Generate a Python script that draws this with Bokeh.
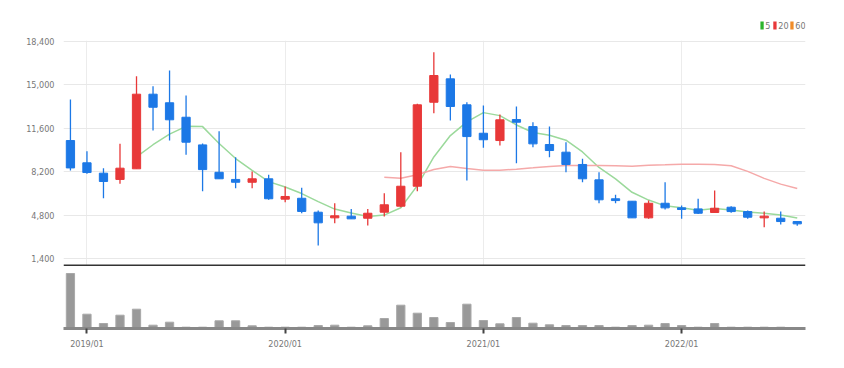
import pandas as pd
from bokeh.plotting import figure
from bokeh.layouts import column
from bokeh.models import Range1d, FixedTicker, NumeralTickFormatter, Span
from bokeh.core.properties import value
from bokeh.embed import file_html
from bokeh.resources import INLINE

months = list(pd.period_range("2018-12", "2022-08", freq="M").strftime("%Y/%m"))

opens = [10640, 8900, 8090, 7600, 8430, 14260, 13590, 12460, 10300, 8160,
         7600, 7380, 7650, 6060, 6130, 5040, 4600, 4730, 4570, 5040,
         5510, 7070, 13630, 15460, 13430, 11210, 10640, 12280, 11730, 10330,
         9730, 8770, 7570, 6090, 5900, 4600, 5740, 5380, 5300, 5020,
         5430, 5090, 4600, 4570, 4310]
highs = [13850, 9800, 8480, 10380, 15670, 14880, 16110, 14160, 10400, 11370,
         9340, 8220, 7960, 7050, 6950, 5170, 5740, 5300, 5300, 6520,
         9730, 13510, 17540, 15800, 13630, 13380, 12670, 13300, 12070, 11730,
         10510, 9210, 8170, 6400, 5900, 5950, 7380, 5560, 6090, 6730,
         5510, 5170, 5090, 5090, 4310]
lows = [8300, 8040, 6130, 7260, 8430, 11420, 10640, 9520, 6670, 7650,
        6910, 6910, 6010, 5820, 4960, 2440, 4180, 4520, 4000, 4700,
        5430, 6680, 12780, 12200, 7520, 10070, 10250, 8870, 10120, 9340,
        8170, 7380, 5740, 5740, 4600, 4520, 5250, 4520, 4910, 5020,
        4990, 4520, 3870, 4080, 3980]
closes = [8500, 8140, 7440, 8480, 14260, 13240, 12260, 10510, 8370, 7650,
          7380, 7650, 6090, 6270, 5100, 4210, 4760, 4520, 4960, 5620,
          7070, 13430, 15720, 13300, 10950, 10700, 12260, 12070, 10380, 9860,
          8770, 7650, 6010, 5950, 4600, 5740, 5380, 5250, 4960, 5350,
          5090, 4650, 4730, 4310, 4130]
volumes = [1100, 286, 100, 266, 386, 66, 126, 26, 26, 154,
           154, 54, 26, 26, 26, 60, 66, 26, 54, 200,
           466, 306, 220, 120, 486, 160, 94, 220, 106, 74,
           60, 60, 60, 26, 60, 66, 100, 60, 26, 100,
           26, 26, 26, 26, 10]
y_ticks = [1400, 4800, 8200, 11600, 15000, 18400]
ma_periods = [5, 20, 60]
ma_colors = ["#9bd99b", "#f5a9a9", "#f0a050"]
legend_colors = ["#2cb52c", "#e83838", "#f08c28"]
legend_x = [41.77, 42.55, 43.58]

UP = "#e83838"
DOWN = "#1c78e6"
FONT = "DejaVu Sans Condensed"
W = 836
BL, BR = 63, 31

x = list(range(len(months)))
colors = [UP if c > o else DOWN for o, c in zip(opens, closes)]
tops = [max(o, c) for o, c in zip(opens, closes)]
bottoms = [min(o, c) for o, c in zip(opens, closes)]
tick_idx = [i for i, m in enumerate(months) if m.endswith("/01")]
xr = Range1d(-0.42, 44.5)

# legend strip
lg = figure(width=W, height=32, x_range=xr, y_range=Range1d(0, 32),
            output_backend="svg", toolbar_location=None,
            min_border_left=BL, min_border_right=BR, min_border_top=0, min_border_bottom=0)
lg.outline_line_color = None
lg.xaxis.visible = False
lg.yaxis.visible = False
lg.grid.visible = False
lg.rect(x=[lx + 0.1 for lx in legend_x], y=[7] * 3, width=0.2, height=8,
        fill_color=legend_colors, line_color=None)
lg.text(x=[lx + 0.3 for lx in legend_x], y=[7] * 3, text=[str(pp) for pp in ma_periods],
        text_color="#777777", text_font_size="9px", text_baseline="middle",
        text_align="left", text_font=value(FONT))

p = figure(width=W, height=234, x_range=xr, y_range=Range1d(799, 18455),
           output_backend="svg", toolbar_location=None,
           min_border_left=BL, min_border_right=BR, min_border_top=8, min_border_bottom=0)
p.outline_line_color = None
p.xaxis.visible = False
p.xgrid.ticker = FixedTicker(ticks=tick_idx)
p.ygrid.ticker = FixedTicker(ticks=y_ticks)
p.xgrid.grid_line_color = "#ececec"
p.ygrid.grid_line_color = "#e8e8e8"
p.yaxis.ticker = FixedTicker(ticks=y_ticks)
p.yaxis.formatter = NumeralTickFormatter(format="0,0")
p.yaxis.axis_line_color = None
p.yaxis.major_tick_line_color = None
p.yaxis.minor_tick_line_color = None
p.yaxis.major_label_standoff = 3
p.yaxis.major_label_text_font = FONT
p.yaxis.major_label_text_font_size = "9px"
p.yaxis.major_label_text_color = "#777777"

ser = pd.Series(closes, dtype=float)
for per, col in zip(ma_periods, ma_colors):
    ma = ser.rolling(per).mean()
    xs = [i for i in x if not pd.isna(ma[i])]
    ys = [ma[i] for i in xs]
    if xs:
        p.line(xs, ys, line_color=col, line_width=1.5)

p.segment(x0=x, y0=highs, x1=x, y1=lows, line_color=colors, line_width=1.3)
p.vbar(x=x, width=0.5, top=tops, bottom=bottoms, fill_color=colors, line_color=colors)

p.add_layout(Span(location=877, dimension="width", line_color="#333333", line_width=2))

v = figure(width=W, height=94, x_range=xr, y_range=Range1d(0, 1240),
           output_backend="svg", toolbar_location=None,
           min_border_left=BL, min_border_right=BR, min_border_top=0, min_border_bottom=32)
v.outline_line_color = None
v.yaxis.visible = False
v.grid.visible = False
v.vbar(x=x, width=0.5, top=volumes, bottom=0, fill_color="#999999", line_color="#a8a8a8")
v.xaxis.ticker = FixedTicker(ticks=tick_idx)
v.xaxis.major_label_overrides = {i: months[i] for i in tick_idx}
v.xaxis.axis_line_color = "#888888"
v.xaxis.axis_line_width = 3
v.xaxis.major_tick_out = 5
v.xaxis.major_tick_in = 0
v.xaxis.major_tick_line_color = "#444444"
v.xaxis.major_tick_line_width = 2
v.xaxis.minor_tick_line_color = None
v.xaxis.major_label_standoff = 5
v.xaxis.major_label_text_font = FONT
v.xaxis.major_label_text_font_size = "9px"
v.xaxis.major_label_text_color = "#777777"

layout = column(lg, p, v, spacing=0)
open("out.html", "w").write(file_html(layout, INLINE))
